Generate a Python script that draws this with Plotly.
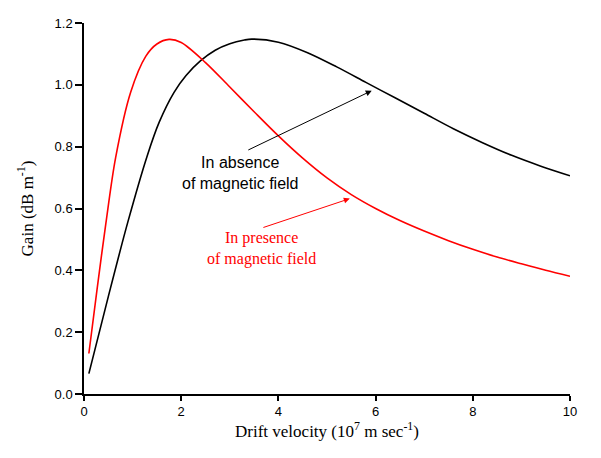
import plotly.graph_objects as go

# Drift velocity (10^7 m/s) and gain (dB/m)
x_absent = [0.1, 0.5, 0.9, 1.3, 1.55, 1.85, 2.1, 2.4, 2.7, 3.0, 3.3, 3.45, 4.0, 4.6, 5.2, 5.8, 6.4, 7.0, 7.6, 8.2, 8.8, 9.4, 10.0]
y_absent = [0.066, 0.315, 0.555, 0.77, 0.88, 0.975, 1.030, 1.078, 1.112, 1.133, 1.145, 1.148, 1.138, 1.104, 1.058, 1.008, 0.958, 0.908, 0.858, 0.813, 0.772, 0.737, 0.706]

x_present = [0.1, 0.27, 0.45, 0.65, 0.96, 1.27, 1.5, 1.75, 2.0, 2.5, 3.0, 3.5, 4.0, 4.5, 5.0, 5.5,
             6.0, 6.5, 7.0, 7.5, 8.0, 8.5, 9.0, 9.5, 10.0]
y_present = [0.131, 0.34, 0.552, 0.764, 0.976, 1.092, 1.132, 1.147, 1.137, 1.072, 0.993, 0.913, 0.835, 0.763, 0.699, 0.645,
             0.600, 0.561, 0.527, 0.496, 0.468, 0.443, 0.421, 0.400, 0.381]

x_ticks = [0, 2, 4, 6, 8, 10]
y_ticks = [0.0, 0.2, 0.4, 0.6, 0.8, 1.0, 1.2]
y_tick_labels = ["0.0", "0.2", "0.4", "0.6", "0.8", "1.0", "1.2"]

fig = go.Figure()
fig.add_trace(go.Scatter(x=x_absent, y=y_absent, mode="lines",
                         line=dict(color="black", width=1.6, shape="spline", smoothing=0.9),
                         name="In absence of magnetic field", showlegend=False))
fig.add_trace(go.Scatter(x=x_present, y=y_present, mode="lines",
                         line=dict(color="#ff0000", width=1.6, shape="spline", smoothing=0.9),
                         name="In presence of magnetic field", showlegend=False))

# Arrows
fig.add_annotation(x=5.92, y=0.981, ax=3.35, ay=0.787, xref="x", yref="y", axref="x", ayref="y",
                   showarrow=True, arrowhead=2, arrowsize=1.2, arrowwidth=1, arrowcolor="black", text="")
fig.add_annotation(x=5.47, y=0.632, ax=3.66, ay=0.537, xref="x", yref="y", axref="x", ayref="y",
                   showarrow=True, arrowhead=2, arrowsize=1.2, arrowwidth=1, arrowcolor="#ff0000", text="")

# Labels
fig.add_annotation(x=3.21, y=0.714, xref="x", yref="y", showarrow=False,
                   text="In absence<br>of magnetic field", align="center",
                   font=dict(family="Liberation Sans, Arial, sans-serif", size=16, color="black"))
fig.add_annotation(x=3.66, y=0.47, xref="x", yref="y", showarrow=False,
                   text="In presence<br>of magnetic field", align="center",
                   font=dict(family="Liberation Serif, Times New Roman, serif", size=16, color="#ff0000"))

axis_common = dict(showline=True, linecolor="black", linewidth=1.5, ticks="outside",
                   tickwidth=1.5, tickcolor="black", showgrid=False, zeroline=False,
                   tickfont=dict(family="Liberation Sans, Arial, sans-serif", size=13, color="black"))

fig.update_xaxes(range=[0, 10], tickvals=x_ticks, ticklen=5,
                 title=dict(text="Drift velocity (10<sup>7</sup> m sec<sup>-1</sup>)", standoff=0,
                            font=dict(family="Liberation Serif, Times New Roman, serif", size=17, color="black")),
                 **axis_common)
fig.update_yaxes(range=[0, 1.2], tickvals=y_ticks, ticktext=y_tick_labels, ticklen=7,
                 title=dict(text="Gain (dB m<sup>-1</sup>)", standoff=17,
                            font=dict(family="Liberation Serif, Times New Roman, serif", size=17, color="black")),
                 **axis_common)

fig.update_layout(width=585, height=442, margin=dict(l=76, r=23, t=8, b=56),
                  plot_bgcolor="white", paper_bgcolor="white")

fig.write_html("out.html")
